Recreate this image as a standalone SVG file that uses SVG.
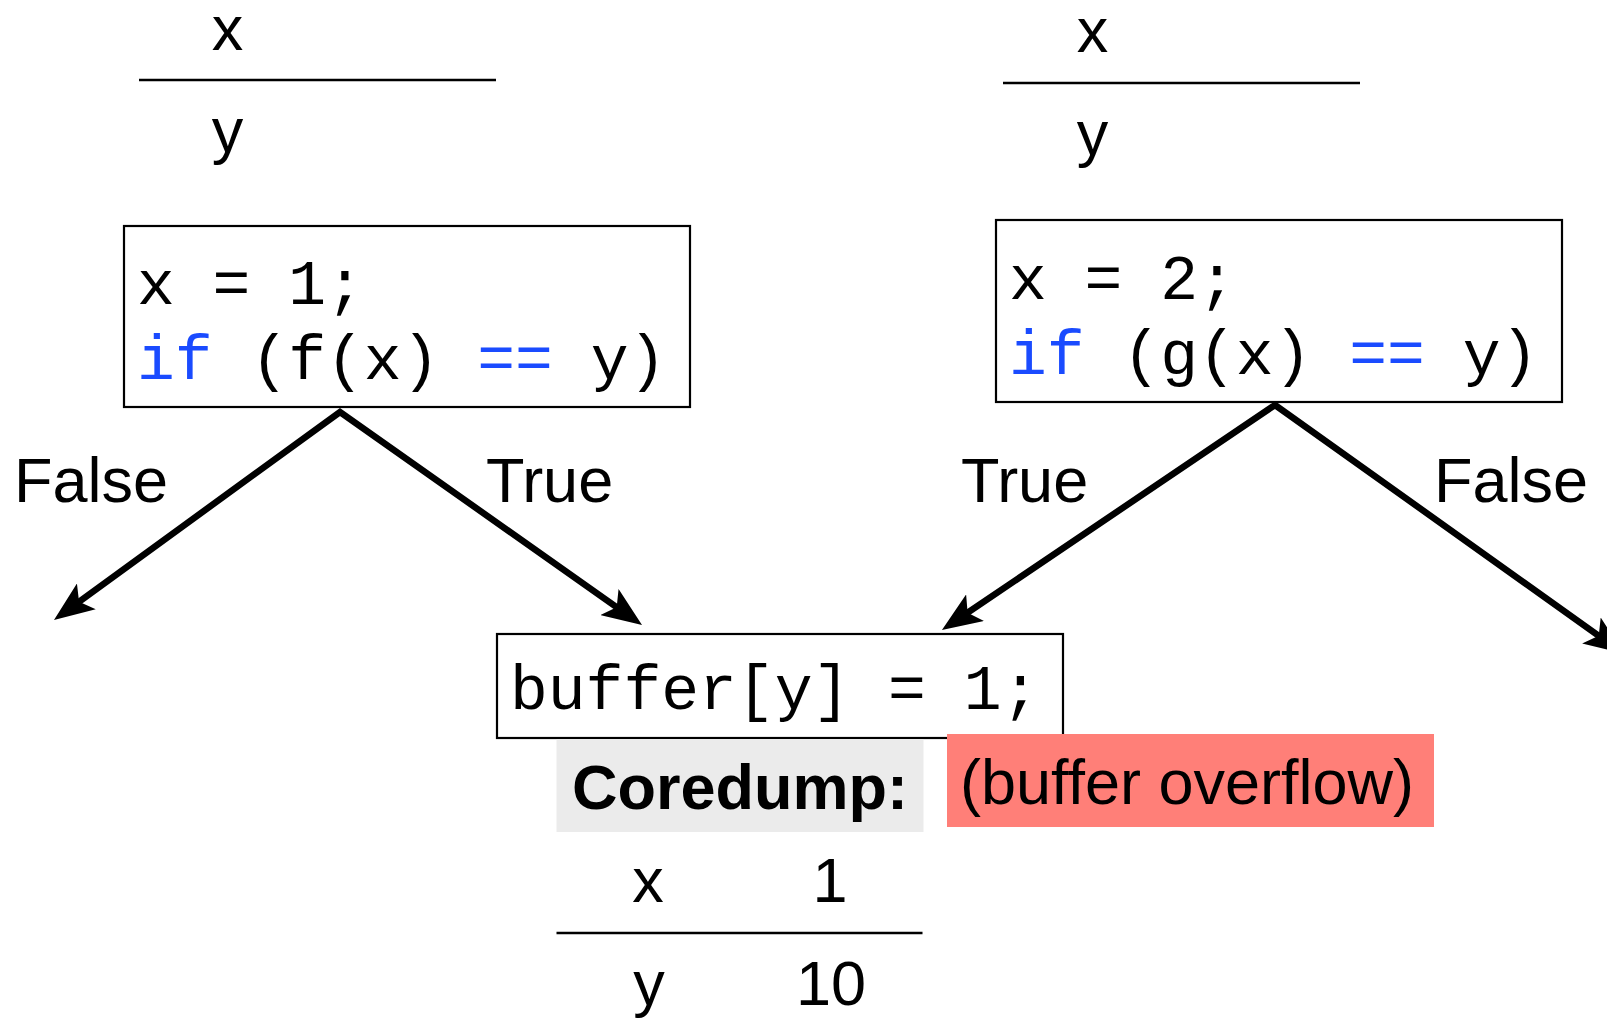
<svg xmlns="http://www.w3.org/2000/svg" width="1607" height="1019" viewBox="0 0 1607 1019">
<style>
.lbl{font-family:"Liberation Sans",Arial,sans-serif;font-size:63px;fill:#000}
.code{font-family:"Liberation Mono","Courier New",monospace;font-size:63px;fill:#000;white-space:pre}
.kw{fill:#1a4bff}
.box{fill:#fff;stroke:#000;stroke-width:2.2}
.rule{stroke:#000;stroke-width:2.5}
.edge{fill:none;stroke:#000;stroke-width:6.5;stroke-linejoin:miter;stroke-miterlimit:10}
</style>
<defs>
<marker id="ah" viewBox="0 0 40 32" refX="27" refY="16" markerWidth="40" markerHeight="32" markerUnits="userSpaceOnUse" orient="auto-start-reverse">
<path d="M0,0 L40,16 L0,32 L9,16 z" fill="#000"/>
</marker>
</defs>
<rect width="1607" height="1019" fill="#fff"/>

<g id="state-left">
<text class="lbl" x="227.5" y="50" text-anchor="middle" font-size="64">x</text>
<line class="rule" x1="139" y1="80" x2="496" y2="80"/>
<text class="lbl" x="227.5" y="152" text-anchor="middle" font-size="64">y</text>
</g>

<g id="state-right">
<text class="lbl" x="1092.5" y="52" text-anchor="middle" font-size="64">x</text>
<line class="rule" x1="1003" y1="83" x2="1360" y2="83"/>
<text class="lbl" x="1092.5" y="155" text-anchor="middle" font-size="64">y</text>
</g>

<g id="cond-left">
<rect class="box" x="124" y="226" width="566" height="181"/>
<text class="code" x="137" y="304">x = 1;</text>
<text class="code" x="137" y="379"><tspan class="kw">if</tspan> (f(x) <tspan class="kw">==</tspan> y)</text>
</g>

<g id="cond-right">
<rect class="box" x="996" y="220" width="566" height="182"/>
<text class="code" x="1009" y="299">x = 2;</text>
<text class="code" x="1009" y="374"><tspan class="kw">if</tspan> (g(x) <tspan class="kw">==</tspan> y)</text>
</g>

<g id="connectors">
<path class="edge" d="M64.5,612.3 L340,412 L631.4,617.6" marker-start="url(#ah)" marker-end="url(#ah)"/>
<path class="edge" d="M952.7,622.8 L1275,405 L1613.4,646.2" marker-start="url(#ah)" marker-end="url(#ah)"/>
<text class="lbl" x="14" y="502">False</text>
<text class="lbl" x="486" y="502">True</text>
<text class="lbl" x="961" y="502">True</text>
<text class="lbl" x="1434" y="502">False</text>
</g>

<g id="sink">
<rect class="box" x="497" y="634" width="566" height="104"/>
<text class="code" x="510" y="709">buffer[y] = 1;</text>
</g>

<g id="coredump">
<rect x="556.5" y="739" width="367" height="93" fill="#ebebeb"/>
<text class="lbl" x="572" y="809" font-weight="bold">Coredump:</text>
<rect x="947" y="734" width="487" height="93" fill="#ff7f78"/>
<text class="lbl" x="960" y="804">(buffer overflow)</text>
<text class="lbl" x="648" y="902" text-anchor="middle" font-size="62">x</text>
<text class="lbl" x="830" y="902" text-anchor="middle" font-size="62">1</text>
<line class="rule" x1="556.5" y1="933" x2="922.5" y2="933"/>
<text class="lbl" x="649" y="1005" text-anchor="middle" font-size="62">y</text>
<text class="lbl" x="831" y="1005" text-anchor="middle" font-size="62">10</text>
</g>
</svg>
